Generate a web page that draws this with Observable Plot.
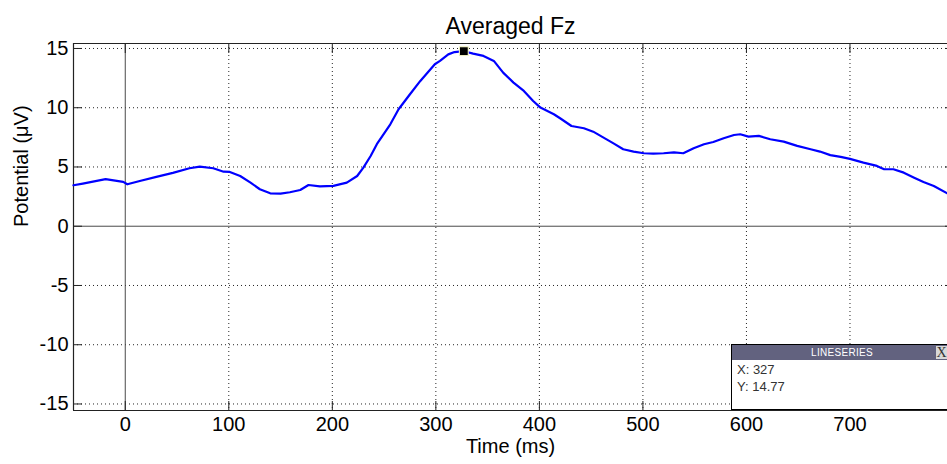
<!DOCTYPE html>
<html><head><meta charset="utf-8">
<script src="https://cdn.jsdelivr.net/npm/d3@7"></script>
<script src="https://cdn.jsdelivr.net/npm/@observablehq/plot@0.6"></script>
<style>
html,body{margin:0;padding:0;background:#fff;overflow:hidden;}
#wrap{position:relative;width:947px;height:464px;overflow:hidden;font-family:"Liberation Sans",Arial,sans-serif;}
#tip{position:absolute;left:731px;top:344px;width:230px;height:66px;background:#fff;border:1px solid #000;box-sizing:border-box;}
#tiphead{position:absolute;left:0;top:0;width:220px;height:15px;background:#62627f;color:#fff;font-size:10px;line-height:15px;text-align:center;letter-spacing:0.3px;}
#tipclose{position:absolute;left:204px;top:1px;width:11px;height:13px;background:#d8d8d8;color:#333;font-family:"Liberation Serif","Times New Roman",serif;font-size:14px;line-height:13px;text-align:center;}
.tipline{position:absolute;left:5px;font-size:13px;color:#333;}
</style>
</head><body>
<div id="wrap"></div>
<script>
const times = [-50,-41,-19,-2,2,14,30,46,62,72,85,95,101,111,121,130,140,150,159,169,177,188,201,214,224,230,237,243,256,264,275,285,299,304,312,318,327,336,346,356,365,375,385,394,401,414,420,431,443,452,462,472,481,491,501,510,520,530,539,549,559,568,578,588,594,602,612,623,636,649,662,671,681,691,700,713,726,733,742,752,762,771,781,794,800];
const potentials = [3.46,3.6,3.97,3.74,3.54,3.82,4.16,4.5,4.89,5.03,4.89,4.6,4.58,4.24,3.68,3.12,2.78,2.75,2.87,3.06,3.48,3.37,3.4,3.68,4.24,4.95,5.93,6.92,8.6,9.87,11.14,12.26,13.67,13.95,14.5,14.7,14.77,14.57,14.37,13.95,12.96,12.12,11.42,10.57,10.01,9.45,9.11,8.46,8.27,7.98,7.48,6.97,6.5,6.3,6.16,6.13,6.16,6.24,6.16,6.58,6.92,7.11,7.43,7.7,7.76,7.56,7.62,7.34,7.14,6.78,6.5,6.3,6.0,5.85,5.68,5.37,5.09,4.81,4.81,4.52,4.1,3.74,3.4,2.78,2.5];
const xTicks = [0,100,200,300,400,500,600,700];
const yTicks = [-15,-10,-5,0,5,10,15];
const xGridTicks = [100,200,300,400,500,600,700];
const yGridTicks = [-15,-10,-5,5,10,15];
const xDomain = [-50, 800];
const yDomain = [-15.55, 15.42];
const peakX = [327];
const peakY = [14.77];
const titleText = "Averaged Fz";
const xLabel = "Time (ms)";
const yLabel = "Potential (\u03bcV)";
const tipHeader = "LINESERIES";

const data = times.map((t, i) => ({t, v: potentials[i]}));
const peak = peakX.map((x, i) => ({t: x, v: peakY[i]}));
const fmt = d => String(d);

const chart = Plot.plot({
  width: 947, height: 464,
  marginLeft: 73, marginRight: 0, marginTop: 43, marginBottom: 54,
  x: {domain: xDomain, range: [73, 953]},
  y: {domain: yDomain, range: [410, 43]},
  style: {fontFamily: "'Liberation Sans', Arial, sans-serif", fontSize: "20px", color: "#000", background: "#fff", overflow: "hidden"},
  marks: [
    Plot.gridX(xGridTicks, {stroke: "#000", strokeOpacity: 0.85, strokeDasharray: "1,3"}),
    Plot.gridY(yGridTicks, {stroke: "#000", strokeOpacity: 0.85, strokeDasharray: "1,3"}),
    Plot.ruleX([0], {stroke: "#4a4a4a", strokeWidth: 1}),
    Plot.ruleY([0], {stroke: "#4a4a4a", strokeWidth: 1}),
    Plot.ruleY([yDomain[1]], {stroke: "#222", strokeWidth: 1.2}),
    Plot.ruleY([yDomain[0]], {stroke: "#222", strokeWidth: 1.2}),
    Plot.ruleX([xDomain[0]], {stroke: "#222", strokeWidth: 1.2}),
    Plot.axisX(xTicks, {anchor: "bottom", tickSize: -9, tickPadding: 15, fontSize: 20, label: null, stroke: "#222", tickFormat: fmt}),
    Plot.axisX(xTicks, {anchor: "top", tickSize: -9, tickFormat: () => "", label: null, stroke: "#222"}),
    Plot.axisY(yTicks, {anchor: "left", tickSize: -9, tickPadding: 14, fontSize: 20, label: null, stroke: "#222", tickFormat: fmt}),
    Plot.axisY(yTicks, {anchor: "right", tickSize: -3, tickFormat: () => "", label: null, stroke: "#222"}),
    Plot.line(data, {x: "t", y: "v", stroke: "#0000ff", strokeWidth: 2.2}),
    Plot.dot(peak, {x: "t", y: "v", symbol: "square", r: 5, fill: "#000", stroke: "#ffffcc", strokeWidth: 1}),
    Plot.text([titleText], {frameAnchor: "top", dy: -25.4, fontSize: 23}),
    Plot.text([xLabel], {frameAnchor: "bottom", dy: 42, fontSize: 20}),
    Plot.text([yLabel], {frameAnchor: "left", dx: -52, rotate: -90, fontSize: 20})
  ]
});

const wrap = document.getElementById("wrap");
wrap.appendChild(chart);
const tip = document.createElement("div");
tip.id = "tip";
tip.innerHTML = `<div id="tiphead">${tipHeader}</div><div id="tipclose">X</div>` +
  `<div class="tipline" style="top:17px">X: ${peakX[0]}</div>` +
  `<div class="tipline" style="top:34px">Y: ${peakY[0]}</div>`;
wrap.appendChild(tip);
</script>
</body></html>
